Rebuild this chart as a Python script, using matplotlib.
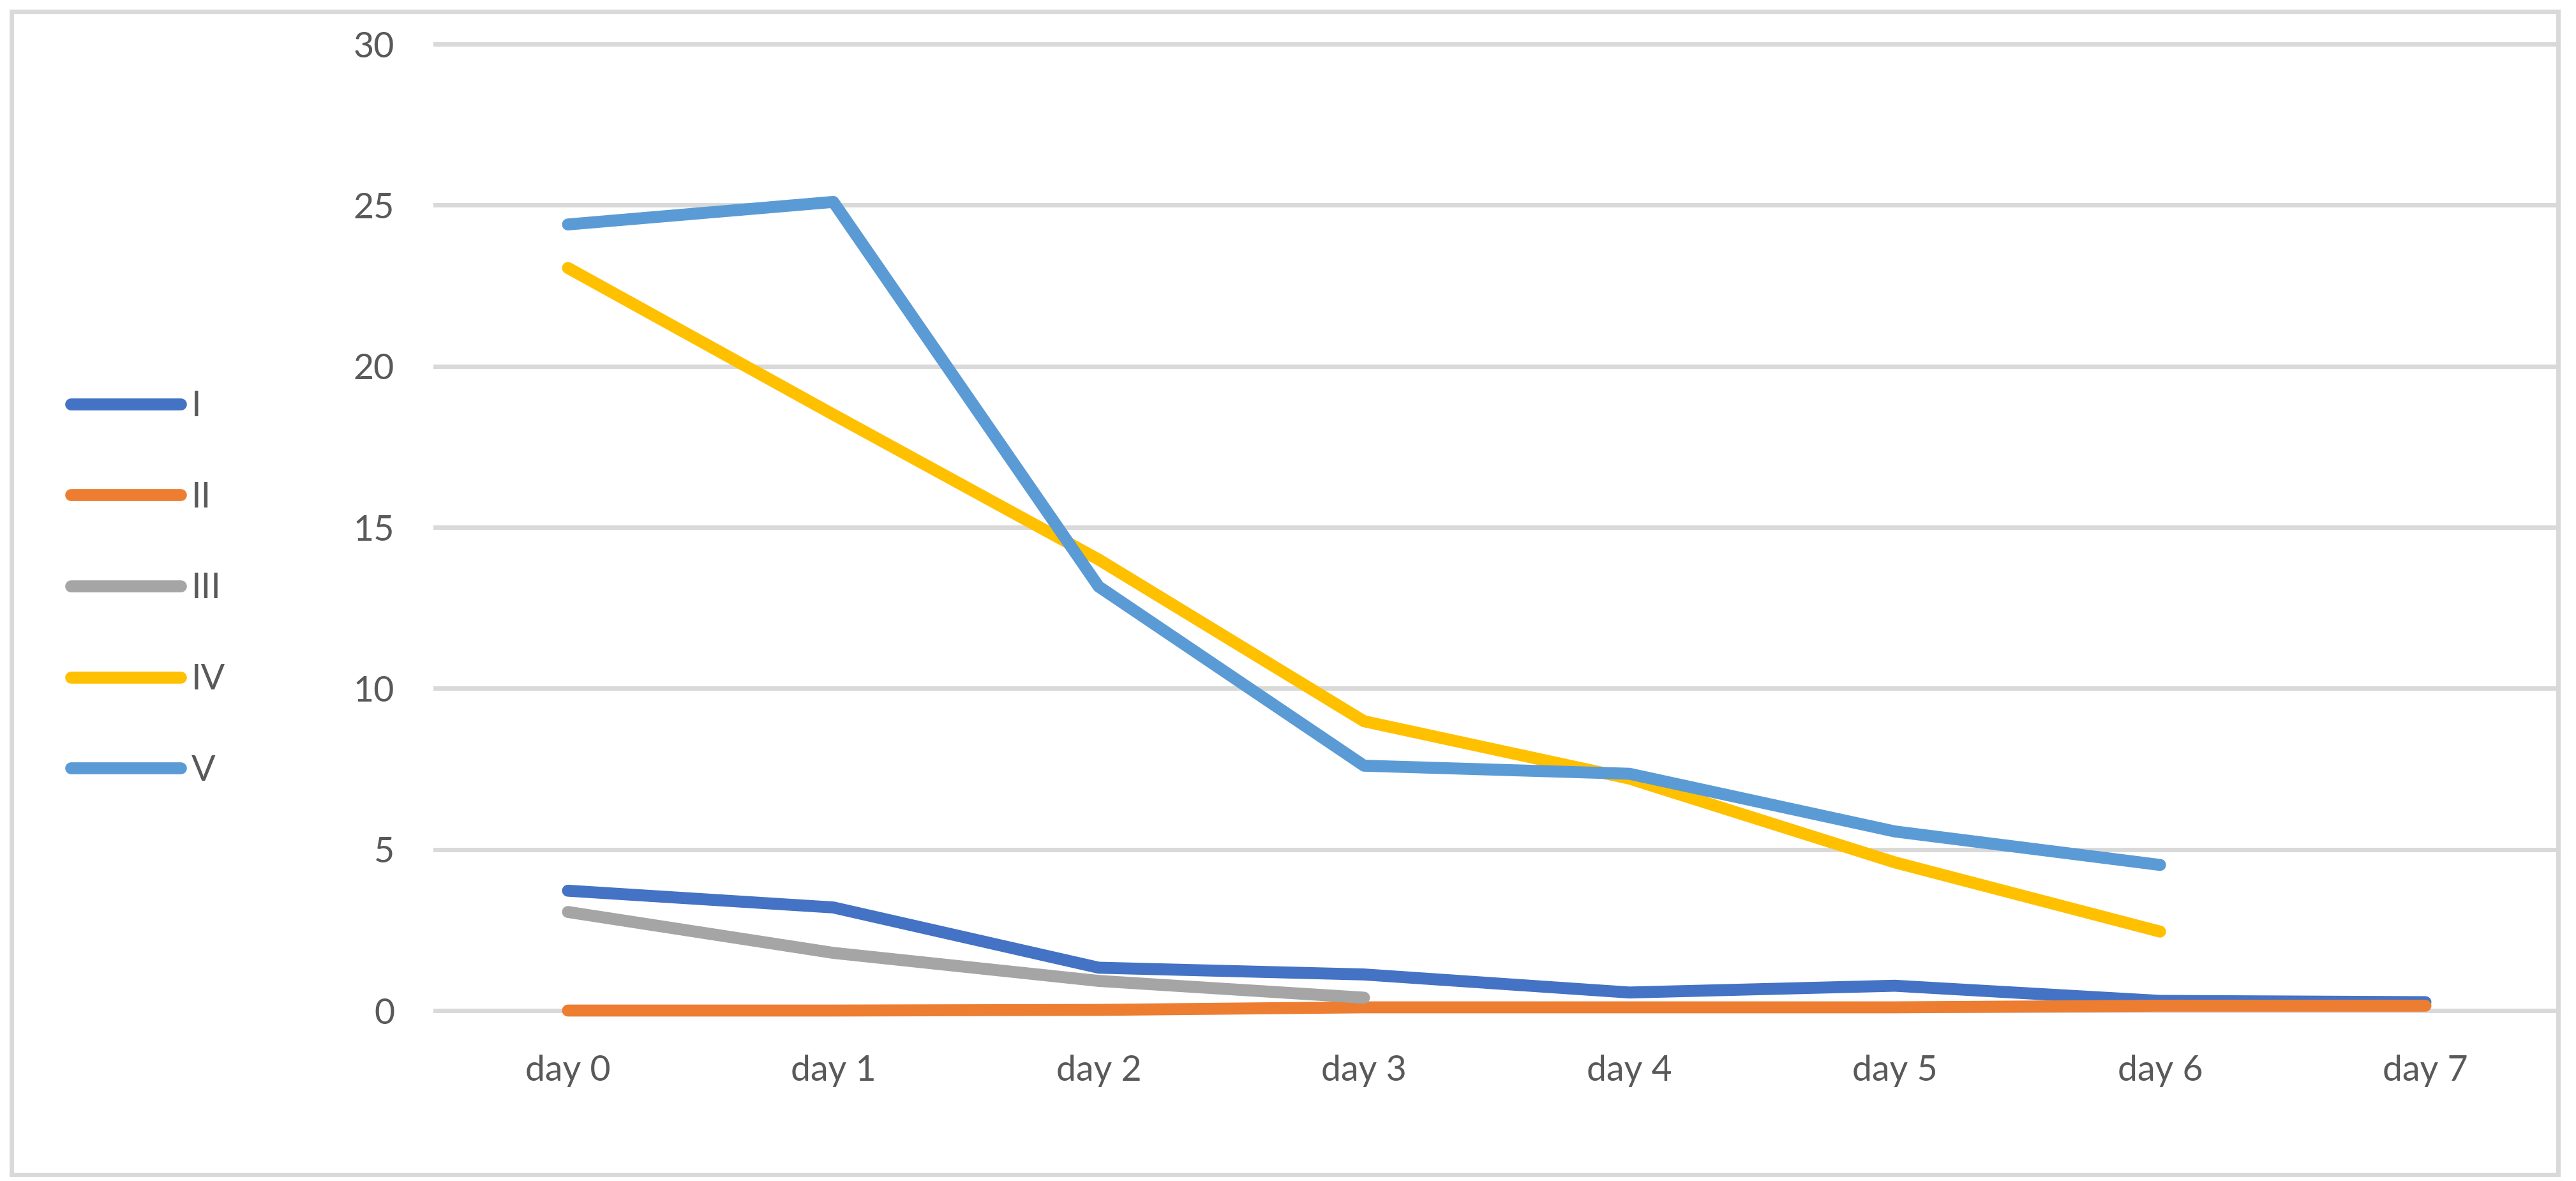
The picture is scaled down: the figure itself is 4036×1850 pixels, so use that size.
import matplotlib.pyplot as plt
from matplotlib.patches import Rectangle

# values
days = ["day 0", "day 1", "day 2", "day 3", "day 4", "day 5", "day 6", "day 7"]
s1 = [3.72, 3.2, 1.33, 1.12, 0.56, 0.77, 0.3, 0.26]
s2 = [0.0, 0.0, 0.02, 0.1, 0.1, 0.1, 0.15, 0.15]
s3 = [3.06, 1.79, 0.92, 0.4]
s4 = [23.05, 18.5, 14.0, 8.98, 7.2, 4.6, 2.45]
s5 = [24.4, 25.1, 13.16, 7.6, 7.35, 5.56, 4.52]
names = ["I", "II", "III", "IV", "V"]
colors = ["#4472C4", "#ED7D31", "#A5A5A5", "#FFC000", "#5B9BD5"]
yticks = [0, 5, 10, 15, 20, 25, 30]

plt.rcParams['font.family'] = ['Lato', 'DejaVu Sans']
txt = "#595959"
grid = "#D9D9D9"

fig = plt.figure(figsize=(40.37, 18.5), dpi=100)
# outer chart border
fig.patches.append(Rectangle((18/4037, 10/1850), 3990/4037, 1822/1850,
                             transform=fig.transFigure, fill=False,
                             edgecolor=grid, linewidth=5))

ax = fig.add_axes([682/4037, 1 - 1583/1850, 3326/4037, (1583 - 69)/1850])

all_series = [s1, s2, s3, s4, s5]
for vals, name, c in zip(all_series, names, colors):
    x = list(range(len(vals)))
    ax.plot(x, vals, color=c, linewidth=13.5, label=name,
            solid_capstyle='round', solid_joinstyle='round', clip_on=False, zorder=3)

ax.set_xlim(-0.5, 7.5)
ax.set_ylim(0, 30)
ax.set_xticks(range(len(days)))
ax.set_xticklabels(days)
ax.set_yticks(yticks)
ax.set_yticklabels([str(v) for v in yticks])
ax.tick_params(axis='both', length=0, labelsize=40, labelcolor=txt)
ax.tick_params(axis='y', pad=46)
ax.tick_params(axis='x', pad=50)
for sp in ax.spines.values():
    sp.set_visible(False)
ax.grid(axis='y', color=grid, linewidth=5, zorder=0)
ax.set_axisbelow(True)
for gl in ax.get_ygridlines():
    gl.set_clip_on(False)

fig.legend(loc='center left', bbox_to_anchor=(111/4037, 1 - 922/1850),
           frameon=False, fontsize=40, labelcolor=txt, handlelength=3.1,
           handletextpad=0.3, labelspacing=1.65, borderpad=0, borderaxespad=0)

fig.savefig("out.png", dpi=100)
